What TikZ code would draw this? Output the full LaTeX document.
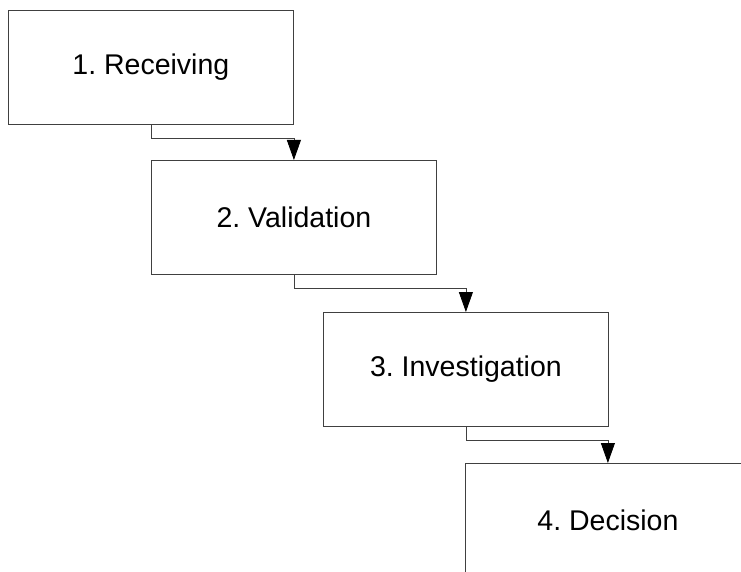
\documentclass[tikz,border=0pt]{standalone}
\usepackage{fontspec}
\setmainfont{Liberation Sans}
\usetikzlibrary{arrows.meta}
\frenchspacing
\begin{document}
\begin{tikzpicture}[x=1pt,y=-1pt,
  stepbox/.style={draw=black!75, line width=0.8pt, rectangle, inner sep=0pt,
    minimum width=285pt, minimum height=114pt, anchor=north west,
    font=\fontsize{28.5}{34}\selectfont},
  conn/.style={draw=black!75, line width=0.8pt, -{Triangle[length=20pt,width=14pt,fill=black,color=black]}}]
\useasboundingbox (0,0) rectangle (741,572);
\clip (0,0) rectangle (741,572);
\node[stepbox] (b1) at (8,10) {1. Receiving};
\node[stepbox] (b2) at (151,160) {2. Validation};
\node[stepbox] (b3) at (323,312) {3. Investigation};
\node[stepbox] (b4) at (465,463) {4. Decision};
\draw[conn] (b1.south) -- ++(0,14) -| (b2.north);
\draw[conn] (b2.south) -- ++(0,14) -| (b3.north);
\draw[conn] (b3.south) -- ++(0,14) -| (b4.north);
\end{tikzpicture}
\end{document}
